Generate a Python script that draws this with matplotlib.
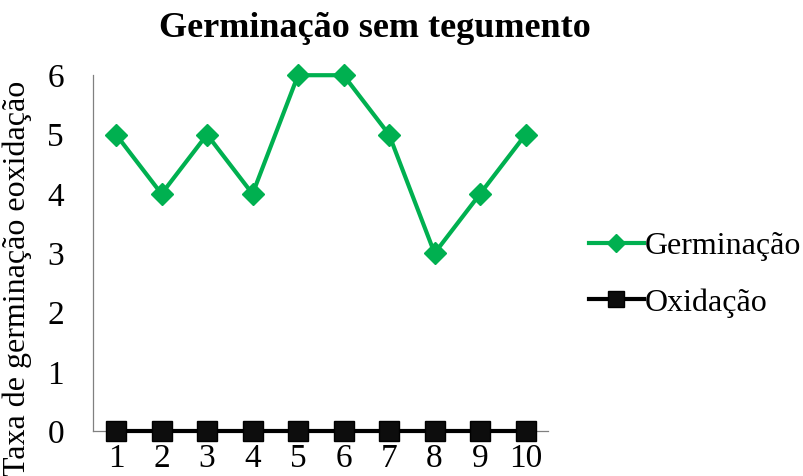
import matplotlib.pyplot as plt

# Data
amostras = list(range(1, 11))
germinacao = [5, 4, 5, 4, 6, 6, 5, 3, 4, 5]
oxidacao = [0, 0, 0, 0, 0, 0, 0, 0, 0, 0]

plt.rcParams['font.family'] = ['Liberation Serif', 'DejaVu Serif']

fig = plt.figure(figsize=(8.04, 4.76), dpi=100)
ax = fig.add_axes([0.116, 0.094, 0.566, 0.748])

ax.plot(amostras, germinacao, color='#00B050', lw=3, marker='D',
        markersize=11, label='Germinação', zorder=3, clip_on=False)
ax.plot(amostras, oxidacao, color='black', lw=3, marker='s',
        markersize=15, markerfacecolor='#0d0d0d', label='Oxidação', zorder=4, clip_on=False)

ax.set_xlim(0.5, 10.5)
ax.set_ylim(0, 6)
ax.set_xticks(amostras)
ax.set_yticks(range(0, 7))
ax.tick_params(length=0, labelsize=24)
ax.tick_params(axis='x', pad=9)
ax.tick_params(axis='y', pad=21)

for s in ['top', 'right']:
    ax.spines[s].set_visible(False)
ax.spines['left'].set_color('#808080')
ax.spines['bottom'].set_color('#808080')
ax.spines['left'].set_linewidth(0.9)
ax.spines['bottom'].set_linewidth(0.9)

fig.text(0.466, 0.941, 'Germinação sem tegumento', ha='center', va='center',
         fontsize=26, fontweight='bold')
fig.text(0.022, 0.416, 'Taxa de germinação eoxidação', rotation=90,
         ha='center', va='center', fontsize=23)

leg = ax.legend(loc='center left', bbox_to_anchor=(1.09, 0.44), frameon=False,
                fontsize=23, handlelength=1.7, handletextpad=0.05,
                labelspacing=0.85, borderpad=0, borderaxespad=0, markerscale=0.8)

fig.savefig('out.png', dpi=100)
